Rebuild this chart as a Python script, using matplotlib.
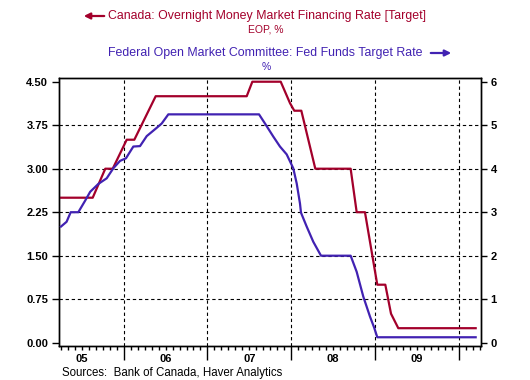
import numpy as np
import matplotlib
matplotlib.use("Agg")
import matplotlib.pyplot as plt
import matplotlib.transforms as mtransforms

plt.rcParams['font.family'] = ['Liberation Sans', 'DejaVu Sans']

# Canada overnight rate target (left axis), decimal years
can_t = [2005.231, 2005.630, 2005.780, 2005.869, 2006.036, 2006.127, 2006.382,
         2007.469, 2007.536, 2007.875, 2007.986, 2008.037, 2008.121, 2008.288,
         2008.710, 2008.782, 2008.881, 2009.028, 2009.124, 2009.192, 2009.279,
         2010.203]
can_v = [2.50, 2.50, 3.00, 3.00, 3.50, 3.50, 4.25,
         4.25, 4.50, 4.50, 4.13, 4.00, 4.00, 3.00,
         3.00, 2.25, 2.25, 1.00, 1.00, 0.50, 0.25,
         0.25]

# Fed funds target rate (right axis)
fed_t = [2005.251, 2005.318, 2005.367, 2005.458, 2005.538, 2005.600, 2005.697,
         2005.797, 2005.876, 2005.956, 2006.027, 2006.115, 2006.195, 2006.275,
         2006.394, 2006.454, 2006.533, 2007.616, 2007.687, 2007.786, 2007.866,
         2007.946, 2008.025, 2008.066, 2008.105, 2008.117, 2008.185, 2008.264,
         2008.356, 2008.710, 2008.782, 2008.861, 2008.941, 2008.992, 2009.028,
         2010.203]
fed_v = [2.67, 2.78, 3.00, 3.00, 3.26, 3.47, 3.65,
         3.78, 4.01, 4.18, 4.24, 4.51, 4.52, 4.75,
         4.94, 5.04, 5.25, 5.25, 5.04, 4.74, 4.51,
         4.33, 4.01, 3.66, 3.20, 2.99, 2.67, 2.32,
         2.00, 2.00, 1.63, 1.06, 0.60, 0.34, 0.125,
         0.125]

left_ticks = [0.00, 0.75, 1.50, 2.25, 3.00, 3.75, 4.50]
right_ticks = [0, 1, 2, 3, 4, 5, 6]
years = [2005, 2006, 2007, 2008, 2009]
year_labels = ['05', '06', '07', '08', '09']

red = '#A3002B'
blue = '#4122B2'

fig = plt.figure(figsize=(5.3, 3.8), dpi=100)
ax = fig.add_axes([59.3 / 530, 34 / 380, (480.7 - 59.3) / 530, (346 - 78.3) / 380])
ax2 = ax.twinx()

ax.plot(can_t, can_v, color=red, lw=1.6, zorder=3)
ax2.plot(fed_t, fed_v, color=blue, lw=1.6, zorder=3)

ax.set_xlim(2005.231, 2010.263)
ax.set_ylim(-0.057, 4.559)
ax2.set_ylim(-0.076, 6.079)

ax.set_yticks(left_ticks)
ax.set_yticklabels(['%.2f' % v for v in left_ticks])
ax2.set_yticks(right_ticks)
ax2.set_yticklabels([str(v) for v in right_ticks])

ax.set_xticks([y + 1 for y in years])
ax.set_xticklabels([])
ax.set_xticks([y + m / 12 for y in range(2005, 2011) for m in range(12)
               if 2005.231 < y + m / 12 < 2010.263 and m != 0], minor=True)

for a in (ax, ax2):
    for s in a.spines.values():
        s.set_linewidth(1.0)
        s.set_color('black')
ax.tick_params(axis='y', direction='out', length=5, width=1, pad=3,
               labelsize=8, colors='black')
ax2.tick_params(axis='y', direction='out', length=4, width=1, pad=3,
                labelsize=8, colors='black')
for lab in ax.get_yticklabels() + ax2.get_yticklabels():
    lab.set_fontweight('bold')
ax.tick_params(axis='x', which='major', direction='out', length=10, width=1)
ax.tick_params(axis='x', which='minor', direction='out', length=3, width=1)

ax.grid(True, axis='both', which='major', color='black', lw=0.8,
        linestyle=(0, (3, 2.5)))
ygl = ax.get_ygridlines()
ygl[0].set_visible(False)
ygl[-1].set_visible(False)

trans = mtransforms.blended_transform_factory(ax.transData, fig.transFigure)
for y, lab in zip(years, year_labels):
    ax.text(y + 0.5, 1 - 359 / 380, lab, transform=trans, ha='center',
            va='center', fontsize=8, fontweight='bold')

# header
fig.text(266.5 / 530, 1 - 16.5 / 380, 'Canada: Overnight Money Market Financing Rate [Target]',
         color=red, ha='center', va='center', fontsize=8.9)
fig.text(266 / 530, 1 - 29.5 / 380, 'EOP, %', color=red, ha='center',
         va='center', fontsize=7.5)
fig.text(265.5 / 530, 1 - 53 / 380, 'Federal Open Market Committee: Fed Funds Target Rate',
         color=blue, ha='center', va='center', fontsize=8.9)
fig.text(266 / 530, 1 - 66.5 / 380, '%', color=blue, ha='center',
         va='center', fontsize=7.5)

fig.text(62 / 530, 1 - 372.7 / 380, 'Sources:  Bank of Canada, Haver Analytics',
         ha='left', va='center', fontsize=8.3)

ax.annotate('', xy=(81 / 530, 1 - 16 / 380), xytext=(107 / 530, 1 - 16 / 380),
            xycoords='figure fraction',
            arrowprops=dict(arrowstyle='-|>', color=red, lw=1.6, mutation_scale=9))
ax.annotate('', xy=(454 / 530, 1 - 53 / 380), xytext=(428 / 530, 1 - 53 / 380),
            xycoords='figure fraction',
            arrowprops=dict(arrowstyle='-|>', color=blue, lw=1.6, mutation_scale=9))

fig.savefig('out.png', dpi=100)
